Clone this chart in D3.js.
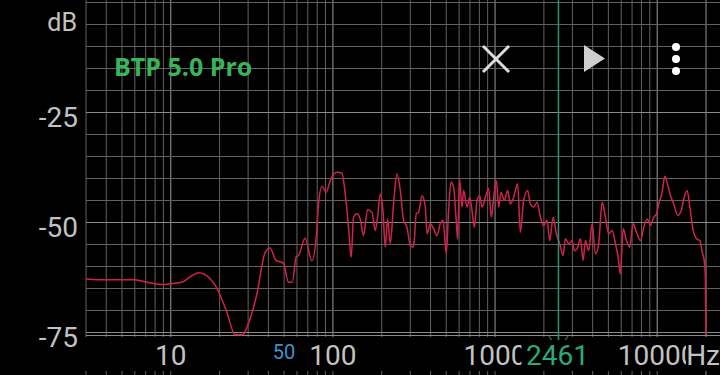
<!DOCTYPE html>
<html><head><meta charset="utf-8">
<script src="https://cdn.jsdelivr.net/npm/d3@7"></script>
<style>html,body{margin:0;padding:0;background:#000;overflow:hidden}svg{display:block}</style>
</head><body>
<svg id="c" width="720" height="375"></svg>
<script>
const title = "BTP 5.0 Pro";
const cursorFreq = 2461;
const markerFreq = 50;
const xTickLabels = [10, 100, 1000, 10000];
const yTickLabels = [-25, -50, -75];
const freqs = [3.0,3.5,6.0,6.6,9.0,10.1,11.7,13.2,14.8,17.5,
18.8,22.2,24.9,27.9,29.5,34.0,38.2,41.0,44.3,49.6,
53.2,56.1,59.4,61.3,67.4,74.2,78.9,81.5,85.5,90.9,
96.2,105.8,113.6,119.1,124.8,129.7,134.0,140.6,147.4,154.4,
163.5,174.1,182.4,188.5,195.8,203.5,210.3,217.3,225.8,236.6,
248.3,260.3,272.7,286.2,300,311.7,317.5,326.6,337.6,354.4,
371.4,380.5,398.7,417.8,438.5,459.4,477.5,500.4,516.9,535,
555.2,577,587.7,604.6,625.5,640,671.7,696.9,721.3,745.3,
774.4,803.6,831.5,871.3,912.9,948.7,980.3,1018.7,1052.6,1089.1,
1141,1196,1243,1302,1378,1432,1501,1589,1651,1731,
1816,1904,1995,2094,2173,2281,2390,2505,2629,2716,
2847,2987,3086,3207,3361,3492,3608,3782,3969,4160,
4360,4576,4795,5026,5274,5527,5744,5935,6168,6463,
6774,7110,7451,7887,8265,8675,9092,9528,9900,10229,
10735,11141,11626,12079,12660,13400,14064,14592,15315,15894,
16681,17480,18320,18955,19500,19800,20000];
const levels = [-62.8,-63.0,-63.0,-63.3,-64.1,-63.9,-63.6,-62.3,-61.4,-62.8,
-64.3,-70.4,-75.5,-75.5,-73.8,-66.2,-56.8,-55.8,-58.5,-59.3,
-63.6,-63.6,-57.8,-57.5,-53.6,-58.7,-53.3,-45.9,-41.8,-43.1,
-40.5,-38.6,-38.8,-43.5,-51.1,-57.9,-48.8,-48.0,-49.2,-53.0,
-47.1,-47.7,-51.8,-48.8,-43.5,-47.3,-55.6,-49.2,-54.8,-45.8,
-38.9,-42.7,-49.5,-51.1,-55.2,-55.6,-54.1,-48.0,-47.7,-43.9,
-46.5,-52.6,-50.3,-51.4,-53.0,-50.3,-49.5,-57.1,-47.3,-40.8,
-42.0,-49.9,-53.7,-40.1,-46.5,-42.7,-46.5,-44.3,-47.3,-51.1,
-45.0,-43.9,-46.5,-44.3,-42.3,-48.8,-44.3,-40.5,-46.5,-43.1,
-45.0,-42.7,-45.8,-44.3,-41.2,-52.2,-45.0,-42.7,-45.8,-46.5,
-45.4,-48.8,-50.7,-49.5,-54.1,-48.8,-52.6,-54.8,-57.5,-53.7,
-54.8,-54.1,-56.4,-56.0,-53.7,-58.6,-54.1,-56.4,-50.3,-57.1,
-54.8,-45.4,-48.8,-52.6,-51.8,-54.8,-57.9,-61.7,-51.4,-54.1,
-55.6,-50.3,-52.2,-54.1,-51.1,-49.2,-50.7,-48.8,-48.0,-45.8,
-43.1,-39.5,-41.6,-43.9,-45.8,-48.4,-47.3,-44.6,-42.7,-46.5,
-51.8,-53.7,-54.1,-56.8,-58.6,-61.7,-75.5];

const svg = d3.select("#c");
const x = d3.scaleLog().domain([3, 20000]).range([86, 706]);
const y = d3.scaleLinear().domain([0, -75]).range([2.5, 332.5]);

// vertical grid
const vlines = [];
for (let d = 1; d <= 10000; d *= 10) for (let m = 1; m <= 9; m++) {
  const f = d * m; if (f >= 3 && f <= 20000) vlines.push(f);
}
vlines.push(20000);
const g = svg.append("g");
g.selectAll("line.v").data(vlines).join("line")
  .attr("x1", d => x(d)).attr("x2", d => x(d)).attr("y1", 0).attr("y2", 337)
  .attr("stroke", d => xTickLabels.includes(d) ? "#9a9a9a" : "#626262").attr("stroke-width", 1);
g.selectAll("line.b").data(vlines).join("line")
  .attr("x1", d => x(d)).attr("x2", d => x(d)).attr("y1", 371).attr("y2", 375)
  .attr("stroke", "#5e5e5e").attr("stroke-width", 1);
const hlines = d3.range(0, -76, -5);
g.selectAll("line.h").data(hlines).join("line")
  .attr("x1", 86).attr("x2", 720).attr("y1", d => y(d)).attr("y2", d => y(d))
  .attr("stroke", d => yTickLabels.includes(d) ? "#8a8a8a" : "#626262").attr("stroke-width", 1);
g.append("line").attr("x1", 86).attr("x2", 720).attr("y1", y(-75) + 3).attr("y2", y(-75) + 3)
  .attr("stroke", "#8a8a8a").attr("stroke-width", 1);

// trace
const data = freqs.map((f, i) => [f, levels[i]]);
svg.append("path").datum(data)
  .attr("d", d3.line().x(d => x(d[0])).y(d => y(d[1])).curve(d3.curveMonotoneX))
  .attr("fill", "none").attr("stroke", "#d0234c").attr("stroke-width", 1.5).attr("stroke-linejoin", "round");

// cursor
const cx = x(cursorFreq);
svg.append("line").attr("x1", cx).attr("x2", cx).attr("y1", 0).attr("y2", 340)
  .attr("stroke", "#2a9470").attr("stroke-width", 1.5);
svg.append("path").attr("transform", `translate(${cx},${y(-75)})`)
  .attr("d", d3.arc()({innerRadius: 10, outerRadius: 10, startAngle: Math.PI * 0.6, endAngle: Math.PI * 1.4}))
  .attr("fill", "none").attr("stroke", "#2a9470").attr("stroke-width", 1.2).attr("opacity", 0.8);

// labels
const lblFont = "Roboto, 'Noto Sans', sans-serif";
svg.selectAll("text.y").data(yTickLabels).join("text")
  .attr("x", 78).attr("y", d => y(d) + 14.5).attr("text-anchor", "end")
  .attr("font-family", lblFont).attr("font-size", 28).attr("fill", "#c2c2c2").text(d => d);
svg.append("text").attr("x", 77).attr("y", 30.5).attr("text-anchor", "end")
  .attr("font-family", lblFont).attr("font-size", 25).attr("fill", "#c2c2c2").text("dB");
svg.selectAll("text.x").data(xTickLabels).join("text")
  .attr("x", d => x(d)).attr("y", 365).attr("text-anchor", "middle")
  .attr("font-family", lblFont).attr("font-size", 28).attr("fill", "#c2c2c2").text(d => d);
svg.append("text").attr("x", x(markerFreq)).attr("y", 359).attr("text-anchor", "middle")
  .attr("font-family", lblFont).attr("font-size", 20).attr("fill", "#3f93cc").text(markerFreq);
// cursor label with black backing
svg.append("rect").attr("x", cx - 37).attr("y", 340).attr("width", 71).attr("height", 30).attr("fill", "#000");
svg.append("text").attr("x", cx - 1).attr("y", 365).attr("text-anchor", "middle")
  .attr("font-family", lblFont).attr("font-size", 28).attr("fill", "#2fa878").text(cursorFreq);
svg.append("rect").attr("x", 686).attr("y", 340).attr("width", 34).attr("height", 30).attr("fill", "#000");
svg.append("text").attr("x", 720).attr("y", 365).attr("text-anchor", "end")
  .attr("font-family", lblFont).attr("font-size", 28).attr("fill", "#c2c2c2").text("Hz");

// title
svg.append("text").attr("x", 114).attr("y", 76)
  .attr("font-family", "'Open Sans', 'Noto Sans', sans-serif").attr("font-weight", "bold")
  .attr("font-size", 25).attr("fill", "#38b55b").text(title);

// icons
const ic = svg.append("g");
ic.append("path").attr("d", "M483,46L509,72M509,46L483,72").attr("stroke", "#dcdcdc").attr("stroke-width", 3).attr("fill", "none");
ic.append("path").attr("d", "M584,45L605,58.5L584,72Z").attr("fill", "#cfcfcf");
[47, 59, 71].forEach(cy => ic.append("circle").attr("cx", 676).attr("cy", cy).attr("r", 4).attr("fill", "#fff"));
</script>
</body></html>
